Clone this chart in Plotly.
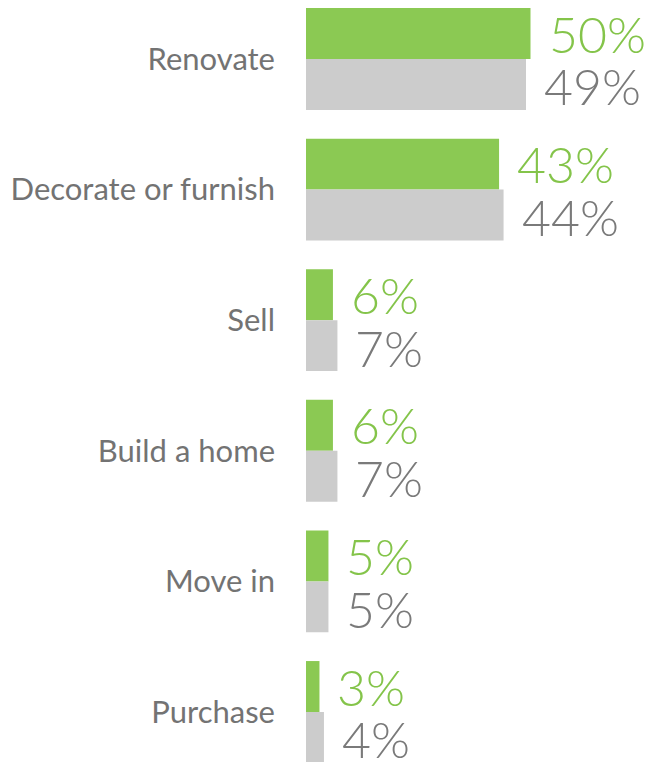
import plotly.graph_objects as go

categories = ["Renovate", "Decorate or furnish", "Sell", "Build a home", "Move in", "Purchase"]
series_a = [50, 43, 6, 6, 5, 3]   # green
series_b = [49, 44, 7, 7, 5, 4]   # gray

GREEN = "#8BC953"
GRAY_BAR = "#CCCCCC"
GREEN_TXT = "#84C44A"
GRAY_TXT = "#7A7A7A"

ypos = list(range(len(categories)))
bw = 0.39

fig = go.Figure()
fig.add_trace(go.Bar(y=ypos, x=series_a, orientation="h", width=bw, offset=-bw,
                     marker=dict(color=GREEN, line=dict(width=0)), hoverinfo="skip"))
fig.add_trace(go.Bar(y=ypos, x=series_b, orientation="h", width=bw, offset=0,
                     marker=dict(color=GRAY_BAR, line=dict(width=0)), hoverinfo="skip"))

for i, (a, b) in enumerate(zip(series_a, series_b)):
    fig.add_annotation(x=a, y=i - bw / 2, text=f"{a}%", showarrow=False, xanchor="left",
                       yanchor="middle", xshift=16, yshift=0,
                       font=dict(family="Lato", size=50, color=GREEN_TXT, weight=300))
    fig.add_annotation(x=b, y=i + bw / 2, text=f"{b}%", showarrow=False, xanchor="left",
                       yanchor="middle", xshift=16, yshift=-2,
                       font=dict(family="Lato", size=50, color=GRAY_TXT, weight=300))

fig.update_layout(
    width=644, height=754,
    margin=dict(l=298, r=0, t=0, b=0),
    plot_bgcolor="white", paper_bgcolor="white",
    showlegend=False, barmode="overlay",
)
fig.update_xaxes(range=[0, 346 / 4.49], visible=False, fixedrange=True)
fig.update_yaxes(range=[5.383, -0.3905], tickvals=ypos, ticktext=categories,
                 showgrid=False, zeroline=False, showline=False, ticks="",
                 ticklabelstandoff=30,
                 tickfont=dict(family="Lato", size=31, color="#737373", weight=400))

fig.write_html("out.html")
